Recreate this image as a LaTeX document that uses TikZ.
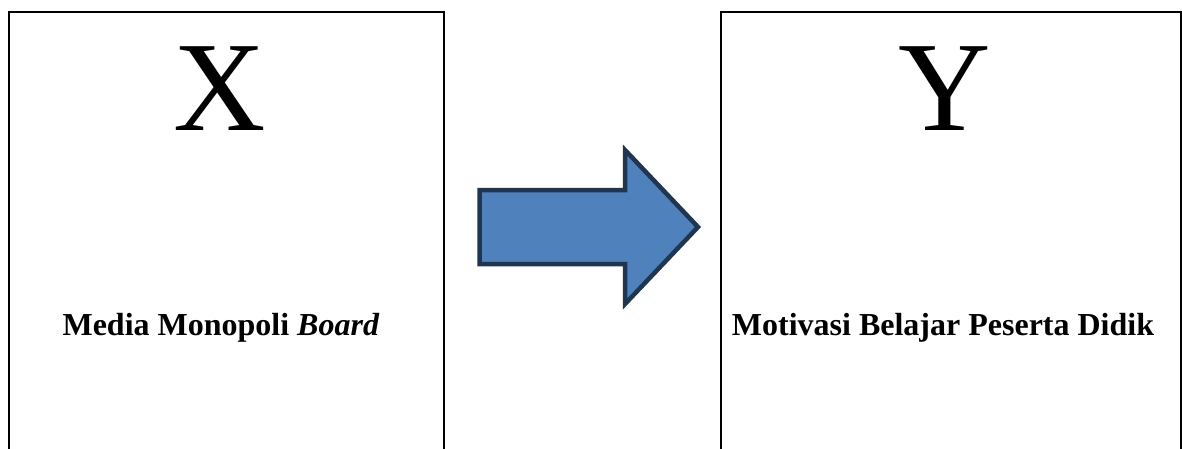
\documentclass[tikz,border=0pt]{standalone}
\usepackage{fontspec}
\setmainfont{Liberation Serif}
\definecolor{arrowfill}{HTML}{4F81BD}
\definecolor{arrowline}{HTML}{1F3550}
\begin{document}
\begin{tikzpicture}[x=1pt,y=-1pt,
  box/.style={draw=black, line width=2pt, inner sep=0pt, anchor=north west},
  bigletter/.style={font=\fontsize{128}{150}\selectfont, inner sep=0pt, anchor=base},
  label/.style={font=\fontsize{32}{38}\selectfont\bfseries, inner sep=0pt, anchor=base}]
\useasboundingbox (0,0) rectangle (1182,448);
\clip (0,0) rectangle (1182,448);
\node[box, minimum width=435pt, minimum height=480pt] (left) at (8,11) {};
\node[box, minimum width=460pt, minimum height=480pt] (right) at (720,11) {};
\node[bigletter] (X) at (220,130) {X};
\node[bigletter] (Y) at (945,130) {Y};
\node[label] (lx) at (221,335.5) {Media Monopoli \textit{Board}};
\node[label] (ly) at (943,335.5) {Motivasi Belajar Peserta Didik};
\draw[fill=arrowfill, draw=arrowline, line width=4.5pt, line join=miter]
  (479.5,190) -- (625,190) -- (625,150) -- (698,227) -- (625,304) -- (625,264) -- (479.5,264) -- cycle;
\end{tikzpicture}
\end{document}
